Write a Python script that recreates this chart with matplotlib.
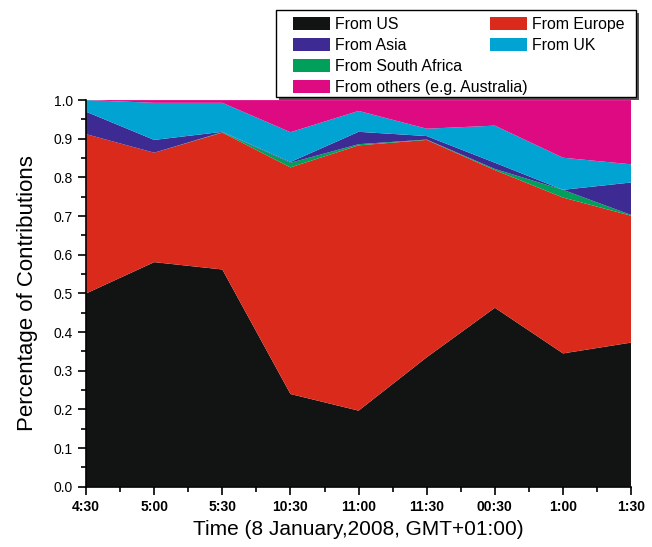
import matplotlib

matplotlib.use("Agg")
import matplotlib.pyplot as plt
from matplotlib.patches import Patch, Rectangle
from matplotlib.ticker import MultipleLocator

plt.rcParams["font.family"] = ["Liberation Sans", "DejaVu Sans"]

times = ["4:30", "5:00", "5:30", "10:30", "11:00", "11:30", "00:30", "1:00", "1:30"]
us = [0.500, 0.581, 0.562, 0.240, 0.197, 0.335, 0.463, 0.345, 0.373]
europe = [0.412, 0.283, 0.354, 0.586, 0.686, 0.562, 0.356, 0.403, 0.328]
south_africa = [0.000, 0.000, 0.001, 0.012, 0.003, 0.001, 0.003, 0.020, 0.002]
asia = [0.058, 0.033, 0.001, 0.002, 0.032, 0.009, 0.016, 0.000, 0.084]
uk = [0.030, 0.096, 0.075, 0.077, 0.054, 0.019, 0.096, 0.083, 0.047]
others = [0.000, 0.007, 0.007, 0.083, 0.028, 0.074, 0.066, 0.149, 0.166]

colors = {
    "us": "#121413",
    "europe": "#d92a1c",
    "sa": "#00a05a",
    "asia": "#3d2a92",
    "uk": "#00a3d2",
    "others": "#de0a82",
}

W, H = 652, 547
fig = plt.figure(figsize=(W / 100, H / 100), dpi=100)
ax = fig.add_axes([0.132, 0.110, 0.836, 0.707])

x = list(range(len(times)))
ax.stackplot(
    x, us, europe, south_africa, asia, uk, others,
    colors=[colors[k] for k in ["us", "europe", "sa", "asia", "uk", "others"]],
    linewidth=0,
)

ax.set_xlim(0, len(times) - 1)
ax.set_ylim(0, 1.0)
ax.set_xticks(x)
ax.set_xticklabels(times, fontweight="bold", fontsize=10)
ax.xaxis.set_minor_locator(MultipleLocator(0.5))
ax.yaxis.set_major_locator(MultipleLocator(0.1))
ax.yaxis.set_minor_locator(MultipleLocator(0.05))
ax.set_yticklabels([f"{v:.1f}" for v in ax.get_yticks()], fontsize=10)
ax.tick_params(which="major", direction="out", length=6, width=1.2)
ax.tick_params(which="minor", direction="out", length=3.5, width=1.2)
ax.spines[["top", "right"]].set_visible(False)
ax.spines["left"].set_linewidth(1.2)
ax.spines["bottom"].set_linewidth(1.2)

ax.set_xlabel("Time (8 January,2008, GMT+01:00)", fontsize=15)
ax.set_ylabel("Percentage of Contributions", fontsize=16, labelpad=11)

# legend box with shadow, drawn by hand (entries overlap columns in the original)
x0, y0, x1, y1 = 276 / W, 1 - 97 / H, 636 / W, 1 - 10 / H
fig.patches.append(Rectangle((x0 + 3 / W, y0 - 3 / H), x1 - x0, y1 - y0,
                             transform=fig.transFigure, facecolor="#555555",
                             edgecolor="none", zorder=5))
fig.patches.append(Rectangle((x0, y0), x1 - x0, y1 - y0, transform=fig.transFigure,
                             facecolor="white", edgecolor="black", lw=1.0, zorder=6))

leg_kw = dict(loc="upper left", fontsize=11.4, frameon=False, borderpad=0,
              labelspacing=0.37, handlelength=2.35, handleheight=0.9,
              handletextpad=0.3, borderaxespad=0)
col1 = [
    Patch(facecolor=colors["us"], label="From US"),
    Patch(facecolor=colors["asia"], label="From Asia"),
    Patch(facecolor=colors["sa"], label="From South Africa"),
    Patch(facecolor=colors["others"], label="From others (e.g. Australia)"),
]
col2 = [
    Patch(facecolor=colors["europe"], label="From Europe"),
    Patch(facecolor=colors["uk"], label="From UK"),
]
leg1 = fig.legend(handles=col1, bbox_to_anchor=(293 / W, 1 - 17 / H), **leg_kw)
leg2 = fig.legend(handles=col2, bbox_to_anchor=(490 / W, 1 - 17 / H), **leg_kw)
leg1.set_zorder(7)
leg2.set_zorder(7)

fig.savefig("out.png", dpi=100)
